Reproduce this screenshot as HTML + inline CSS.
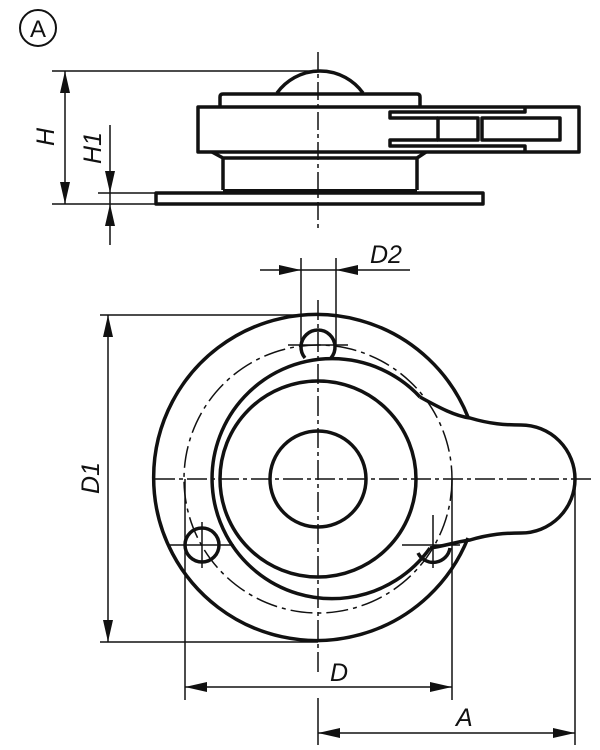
<!DOCTYPE html>
<html><head><style>html,body{margin:0;padding:0;background:#fff}svg{display:block}text{font-family:"Liberation Sans",sans-serif;font-style:italic;font-size:25px;fill:#111}</style></head>
<body>
<svg width="600" height="750" viewBox="0 0 600 750" xmlns="http://www.w3.org/2000/svg">
<g fill="none" stroke="#111">
<circle cx="38" cy="28" r="18" stroke-width="2"/>
<!-- TOP VIEW -->
<g stroke-width="3.5" stroke-linejoin="round">
<path d="M277,93 A53,53 0 0 1 363,93"/>
<path d="M220,107 L220,97 Q220,94 223,94 L417,94 Q420,94 420,97 L420,107"/>
<rect x="198" y="107" width="381" height="45"/>
<path d="M525,107 V112 H390 V118 H438"/>
<rect x="438" y="118" width="40" height="22"/>
<rect x="482" y="118" width="78" height="22"/>
<path d="M438,140 H390 V146 H525 V152"/>
<path d="M212,152 L223,158 L223,190 M426,152 L417,158 L417,190 M223,158 H417"/>
<rect x="156" y="193" width="327" height="11"/>
</g>
<line x1="223" y1="191" x2="417" y2="191" stroke-width="4"/>
<line x1="318" y1="52" x2="318" y2="230" stroke-width="1.5" stroke-dasharray="18,4,4,4"/>
<g stroke-width="1.5">
<line x1="52" y1="71" x2="318" y2="71"/>
<line x1="52" y1="204" x2="156" y2="204"/>
<line x1="98" y1="193" x2="156" y2="193"/>
<line x1="65" y1="71" x2="65" y2="204"/>
<line x1="110" y1="125" x2="110" y2="245"/>
</g>
<!-- BOTTOM VIEW -->
<g stroke-width="3.5">
<path d="M468,417 A163,163 0 1 0 468,538"/>
<path d="M420,397 A120,120 0 1 0 430,548"/>
<path d="M420,397 C440,408 455,416 470,418 C490,424 505,425 521,425 A54,54 0 0 1 521,533 C505,533 490,534 470,540 C455,542 445,546 430,548"/>
<circle cx="318" cy="479" r="98"/>
<circle cx="318" cy="479" r="48"/>
<path d="M305,358 A17,17 0 1 1 331,358"/>
<circle cx="202" cy="545" r="17"/>
<path d="M418,553 A17,17 0 0 0 450,548"/>
</g>
<circle cx="318" cy="479" r="134" stroke-width="1.5" stroke-dasharray="22,5,4,5"/>
<g stroke-width="1.5">
<line x1="318" y1="300" x2="318" y2="673" stroke-dasharray="20,4,4,4"/>
<line x1="155" y1="479" x2="595" y2="479" stroke-dasharray="20,4,4,4"/>
<line x1="288" y1="345" x2="348" y2="345"/>
<line x1="170" y1="545" x2="234" y2="545"/><line x1="202" y1="522" x2="202" y2="568"/>
<line x1="402" y1="545" x2="460" y2="545"/><line x1="433" y1="515" x2="433" y2="568"/>
<line x1="301" y1="258" x2="301" y2="345"/><line x1="336" y1="258" x2="336" y2="345"/>
<line x1="260" y1="270" x2="410" y2="270"/>
<line x1="100" y1="315" x2="318" y2="315"/><line x1="100" y1="642" x2="318" y2="642"/>
<line x1="108" y1="315" x2="108" y2="642"/>
<line x1="185" y1="479" x2="185" y2="700"/><line x1="452" y1="479" x2="452" y2="700"/>
<line x1="185" y1="687" x2="452" y2="687"/>
<line x1="318" y1="698" x2="318" y2="745"/><line x1="575" y1="479" x2="575" y2="745"/>
<line x1="318" y1="733" x2="575" y2="733"/>
</g>
</g>
<g fill="#111">
<polygon points="65,71 60,93 70,93"/><polygon points="65,204 60,182 70,182"/>
<polygon points="110,193 105,171 115,171"/><polygon points="110,204 105,226 115,226"/>
<polygon points="301,270 279,265 279,275"/><polygon points="336,270 358,265 358,275"/>
<polygon points="108,315 103,337 113,337"/><polygon points="108,642 103,620 113,620"/>
<polygon points="185,687 207,682 207,692"/><polygon points="452,687 430,682 430,692"/>
<polygon points="318,733 340,728 340,738"/><polygon points="575,733 553,728 553,738"/>
</g>
<text x="38" y="37" text-anchor="middle" style="font-style:normal;font-size:24px">A</text>
<text transform="translate(54,137) rotate(-90)" text-anchor="middle">H</text>
<text transform="translate(101,148) rotate(-90)" text-anchor="middle">H1</text>
<text x="370" y="263">D2</text>
<text transform="translate(99,478) rotate(-90)" text-anchor="middle">D1</text>
<text x="330" y="681">D</text>
<text x="456" y="726">A</text>
</svg>
</body></html>
